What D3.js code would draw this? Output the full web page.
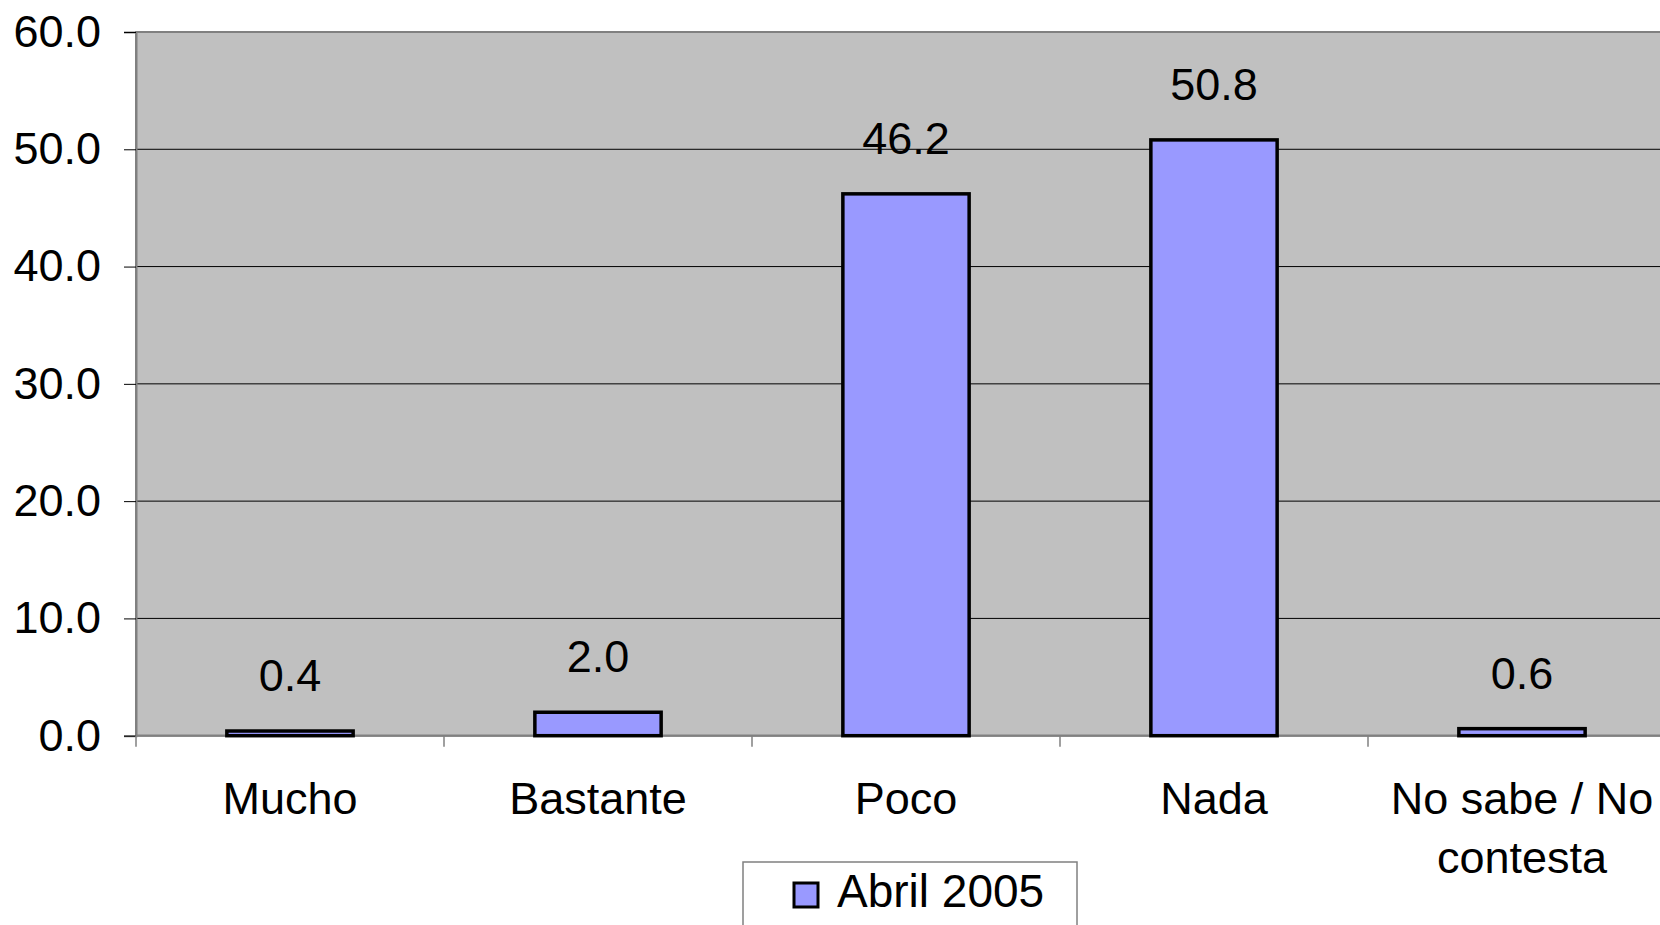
<!DOCTYPE html>
<html>
<head>
<meta charset="utf-8">
<script src="https://cdn.jsdelivr.net/npm/d3@7"></script>
<style>
  html, body { margin: 0; padding: 0; background: #fff; overflow: hidden; }
  svg { display: block; font-family: "Liberation Sans", Arial, sans-serif; }
</style>
</head>
<body>
<svg width="1660" height="925"></svg>
<script>
// data
var categories = ["Mucho", "Bastante", "Poco", "Nada", "No sabe / No contesta"];
var values = [0.4, 2.0, 46.2, 50.8, 0.6];
var seriesName = "Abril 2005";
var yTicks = [0, 10, 20, 30, 40, 50, 60];

var svg = d3.select("svg");

var plotLeft = 136, plotRight = 1676, plotTop = 32, plotBottom = 735.7;

var x = d3.scaleBand().domain(categories).range([plotLeft, plotRight]).padding(0);
var y = d3.scaleLinear().domain([0, 60]).range([plotBottom, plotTop]);
var bw = x.bandwidth();

// plot area
svg.append("rect")
    .attr("x", plotLeft).attr("y", plotTop)
    .attr("width", plotRight - plotLeft).attr("height", plotBottom - plotTop)
    .attr("fill", "#c0c0c0")
    .attr("stroke", "#808080")
    .attr("stroke-width", 2);

// gridlines
svg.selectAll("line.grid")
    .data(yTicks.slice(1, -1))
    .enter().append("line")
    .attr("class", "grid")
    .attr("x1", plotLeft).attr("x2", plotRight)
    .attr("y1", function (d) { return y(d); })
    .attr("y2", function (d) { return y(d); })
    .attr("stroke", "#000")
    .attr("stroke-width", 1);

// y axis
var yAxis = svg.append("g")
    .attr("transform", "translate(" + plotLeft + ",0)")
    .call(d3.axisLeft(y).tickValues(yTicks).tickFormat(d3.format(".1f")).tickSize(12).tickPadding(23));
yAxis.select(".domain").attr("stroke", "#808080").attr("stroke-width", 2);
yAxis.selectAll(".tick line").attr("stroke", "#000");
yAxis.selectAll(".tick text")
    .attr("font-size", 45)
    .attr("fill", "#000")
    .attr("font-family", "Liberation Sans, Arial, sans-serif");

// x axis line and ticks at band boundaries
svg.append("line")
    .attr("x1", plotLeft).attr("x2", plotRight)
    .attr("y1", plotBottom).attr("y2", plotBottom)
    .attr("stroke", "#808080").attr("stroke-width", 2);

svg.selectAll("line.xtick")
    .data(categories)
    .enter().append("line")
    .attr("class", "xtick")
    .attr("x1", function (d) { return x(d); })
    .attr("x2", function (d) { return x(d); })
    .attr("y1", plotBottom).attr("y2", plotBottom + 11)
    .attr("stroke", "#808080").attr("stroke-width", 1.5);

// bars
svg.selectAll("rect.bar")
    .data(values)
    .enter().append("rect")
    .attr("class", "bar")
    .attr("x", function (d, i) { return x(categories[i]) + bw * 0.295; })
    .attr("width", bw * 0.41)
    .attr("y", function (d) { return y(d); })
    .attr("height", function (d) { return plotBottom - y(d); })
    .attr("fill", "#9999ff")
    .attr("stroke", "#000")
    .attr("stroke-width", 3.5);

// value labels
svg.selectAll("text.val")
    .data(values)
    .enter().append("text")
    .attr("class", "val")
    .attr("x", function (d, i) { return x(categories[i]) + bw / 2; })
    .attr("y", function (d) { return y(d) - 40; })
    .attr("text-anchor", "middle")
    .attr("font-size", 45)
    .text(function (d) { return d.toFixed(1); });

// category labels, wrapped
svg.selectAll("text.cat")
    .data(categories)
    .enter().append("text")
    .attr("class", "cat")
    .attr("text-anchor", "middle")
    .attr("font-size", 45)
    .each(function (d) {
        var t = d3.select(this);
        var cx = x(d) + bw / 2;
        var words = d.split(" ");
        var lines = [], cur = [];
        var probe = t.append("tspan");
        words.forEach(function (w) {
            var test = cur.concat([w]).join(" ");
            probe.text(test);
            if (probe.node().getComputedTextLength() > bw - 10 && cur.length) {
                lines.push(cur.join(" "));
                cur = [w];
            } else {
                cur.push(w);
            }
        });
        lines.push(cur.join(" "));
        probe.remove();
        lines.forEach(function (l, i) {
            t.append("tspan").attr("x", cx).attr("y", 814 + i * 59).text(l);
        });
    });

// legend
var legend = svg.append("g").attr("transform", "translate(743,862)");
legend.append("rect")
    .attr("width", 334).attr("height", 100)
    .attr("fill", "#fff")
    .attr("stroke", "#808080").attr("stroke-width", 1.5);
legend.append("rect")
    .attr("x", 51).attr("y", 21)
    .attr("width", 24).attr("height", 24)
    .attr("fill", "#9999ff")
    .attr("stroke", "#000").attr("stroke-width", 3);
legend.append("text")
    .attr("x", 94).attr("y", 45)
    .attr("font-size", 46)
    .text(seriesName);
</script>
</body>
</html>
